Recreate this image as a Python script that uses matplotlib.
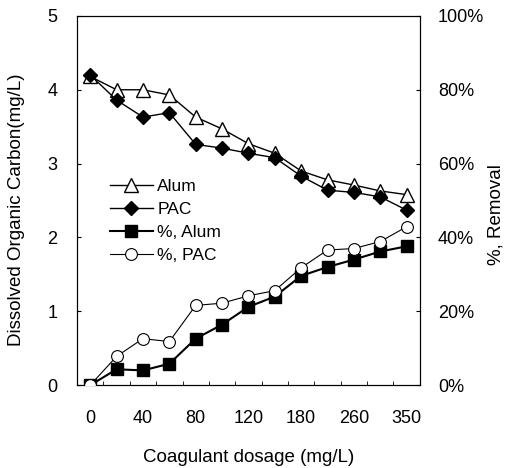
import matplotlib.pyplot as plt
from matplotlib.ticker import FuncFormatter, FixedLocator

plt.rcParams['font.family'] = ['Liberation Sans', 'DejaVu Sans']

dosage = ['0', '20', '40', '60', '80', '100', '120', '140', '180', '220', '260', '300', '350']
doc_alum = [4.18, 4.0, 4.0, 3.93, 3.63, 3.47, 3.27, 3.14, 2.9, 2.78, 2.71, 2.63, 2.58]
doc_pac = [4.2, 3.86, 3.63, 3.69, 3.26, 3.21, 3.14, 3.08, 2.83, 2.64, 2.61, 2.55, 2.37]
rem_alum = [0.0, 4.3, 4.0, 5.8, 12.6, 16.4, 21.2, 24.0, 29.6, 32.0, 34.0, 36.2, 37.6]
rem_pac = [0.0, 7.8, 12.6, 11.8, 21.6, 22.2, 24.2, 25.6, 31.8, 36.6, 37.0, 38.9, 42.9]
tick_labels = ['0', '40', '80', '120', '180', '260', '350']

x = list(range(len(dosage)))

fig = plt.figure(figsize=(5.07, 4.68), dpi=100)
ax = fig.add_axes([0.152, 0.177, 0.676, 0.789])
ax2 = ax.twinx()

l1, = ax.plot(x, doc_alum, color='black', lw=1, marker='^', ms=10,
              mfc='white', mec='black', mew=1, label='Alum', zorder=3)
l2, = ax.plot(x, doc_pac, color='black', lw=1, marker='D', ms=7.5,
              mfc='black', mec='black', label='PAC', zorder=3)
l3, = ax2.plot(x, rem_alum, color='black', lw=1.5, marker='s', ms=8.5,
               mfc='black', mec='black', label='%, Alum', zorder=3)
l4, = ax2.plot(x, rem_pac, color='black', lw=0.8, marker='o', ms=8.5,
               mfc='white', mec='black', mew=0.8, label='%, PAC', zorder=4)

ax.set_xlim(-0.5, 12.5)
ax.set_ylim(0, 5)
ax2.set_ylim(0, 100)
ax.set_yticks([0, 1, 2, 3, 4, 5])
ax2.set_yticks([0, 20, 40, 60, 80, 100])
ax2.yaxis.set_major_formatter(FuncFormatter(lambda v, p: f'{int(v)}%'))

ax.set_xticks(x[::2])
ax.set_xticklabels(tick_labels)
ax.xaxis.set_minor_locator(FixedLocator([i + 0.5 for i in range(12)]))
ax.tick_params(axis='x', which='major', length=0, pad=18, labelsize=13)
ax.tick_params(axis='x', which='minor', direction='in', length=3)
ax.tick_params(axis='y', direction='in', length=3, pad=14, labelsize=13)
ax2.tick_params(axis='y', direction='in', length=3, pad=13, labelsize=13)

ax.set_xlabel('Coagulant dosage (mg/L)', fontsize=13.5)
ax.xaxis.set_label_coords(0.5, -0.173)
ax.set_ylabel('Dissolved Organic Carbon(mg/L)', fontsize=13.5)
ax.yaxis.set_label_coords(-0.152, 0.474)
ax2.set_ylabel('%, Removal', fontsize=13.5)
ax2.yaxis.set_label_coords(1.198, 0.463)

ax.legend(handles=[l1, l2, l3, l4], loc='upper left',
          bbox_to_anchor=(0.075, 0.577), frameon=False, fontsize=12.5,
          handlelength=2.5, handletextpad=0.25, labelspacing=0.45,
          borderaxespad=0)

fig.savefig('out.png', dpi=100, facecolor='white')
